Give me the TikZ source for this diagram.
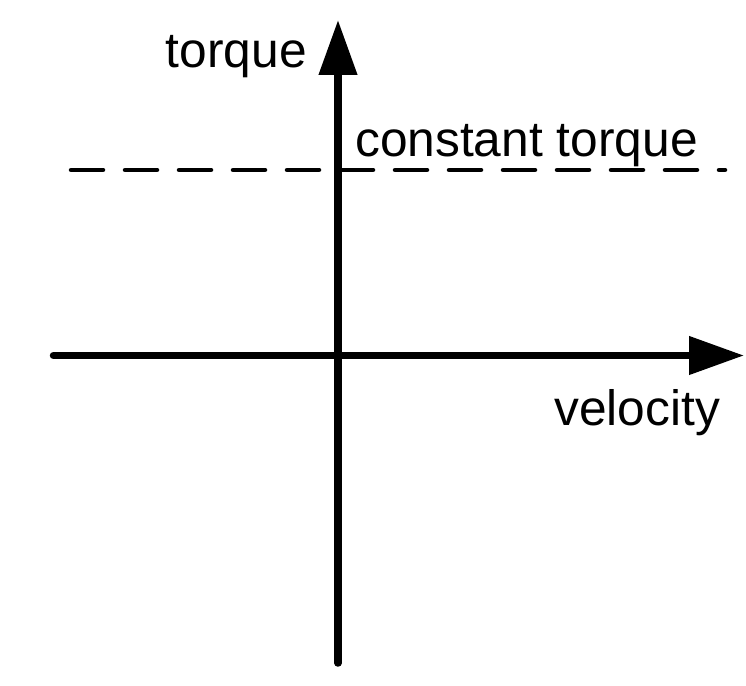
\documentclass[tikz,border=0pt]{standalone}
\usepackage{fontspec}
\setmainfont{Liberation Sans}
\usetikzlibrary{arrows.meta,positioning}

\begin{document}
\begin{tikzpicture}[x=1pt,y=1pt,>={Triangle[length=55pt,width=37pt]},
  axis/.style={line width=7.5pt,line cap=round},
  level/.style={line width=4.5pt,line cap=round,dash pattern=on 32pt off 22pt},
  lbl/.style={inner sep=0pt,font=\fontsize{49.7}{60}\selectfont}]
  \useasboundingbox (0,0) rectangle (746,685);
  \coordinate (O) at (338,329.5);
  \coordinate (W) at (53.5,329.5);
  \coordinate (E) at (744,329.5);
  \coordinate (S) at (338,22);
  \coordinate (N) at (338,665);
  \coordinate (L) at (71,515);
  \coordinate (R) at (725,515);
  \draw[level] (L) -- (R);
  \draw[axis,->] (W) -- (E);
  \draw[axis,->] (S) -- (N);
  \node[lbl,anchor=base east] (torque) at (307,617) {torque};
  \node[lbl,anchor=base west] (const) at (355,528) {constant torque};
  \node[lbl,anchor=base west] (vel) at (554,259) {velocity};
\end{tikzpicture}
\end{document}
